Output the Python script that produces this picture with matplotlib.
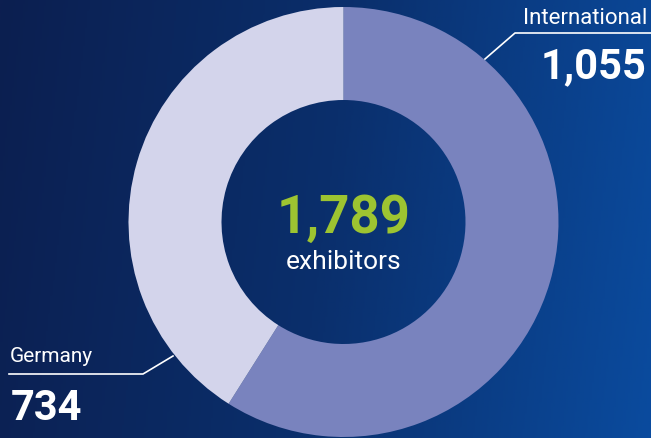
import numpy as np
import matplotlib.pyplot as plt
from matplotlib.colors import LinearSegmentedColormap

labels = ["International", "Germany"]
values = [1055, 734]
total = sum(values)
value_labels = ["1,055", "734"]
center_caption = "exhibitors"

slice_colors = ["#7983be", "#d3d4eb"]
green = "#9dc431"

W, H = 651, 439
plt.rcParams['font.family'] = ['Roboto', 'DejaVu Sans']

fig = plt.figure(figsize=(W / 100, H / 100), dpi=100)
ax = fig.add_axes([0, 0, 1, 1])

# background: dark navy on the left fading to brighter blue on the right
bg = LinearSegmentedColormap.from_list(
    "bg", [(0, "#0c1f50"), (0.5, "#0a2f6c"), (1, "#0a4b9e")])
gx = np.linspace(0, 1, 300)
gy = np.linspace(0, 1, 200)
GX, GY = np.meshgrid(gx, gy)
grad = np.clip(GX * 0.92 + (1 - GY) * 0.08, 0, 1)
ax.imshow(grad, cmap=bg, extent=[0, W, 0, H], origin="lower", aspect="auto", zorder=0)

ax.pie(values, colors=slice_colors, startangle=90, counterclock=False,
       center=(343.5, 216), radius=215, frame=True,
       wedgeprops=dict(width=93, linewidth=0))

ax.set_xlim(0, W)
ax.set_ylim(0, H)
ax.axis("off")

# leader lines
ax.plot([485, 515, 651], [379, 405, 405], color="white", lw=1.2, zorder=3)
ax.plot([9, 143, 173], [64, 64, 82], color="white", lw=1.2, zorder=3)

ax.text(647, 415, labels[0], color="white", fontsize=16, ha="right", va="baseline")
ax.text(646, 361, value_labels[0], color="white", fontsize=30, fontweight="bold",
        ha="right", va="baseline")
ax.text(10, 77, labels[1], color="white", fontsize=15, ha="left", va="baseline")
ax.text(11, 19, value_labels[1], color="white", fontsize=30, fontweight="bold",
        ha="left", va="baseline")

ax.text(344, 206, f"{total:,}", color=green, fontsize=38, fontweight="bold",
        ha="center", va="baseline")
ax.text(344, 170, center_caption, color="white", fontsize=19, ha="center", va="baseline")

fig.savefig("out.png", dpi=100)
